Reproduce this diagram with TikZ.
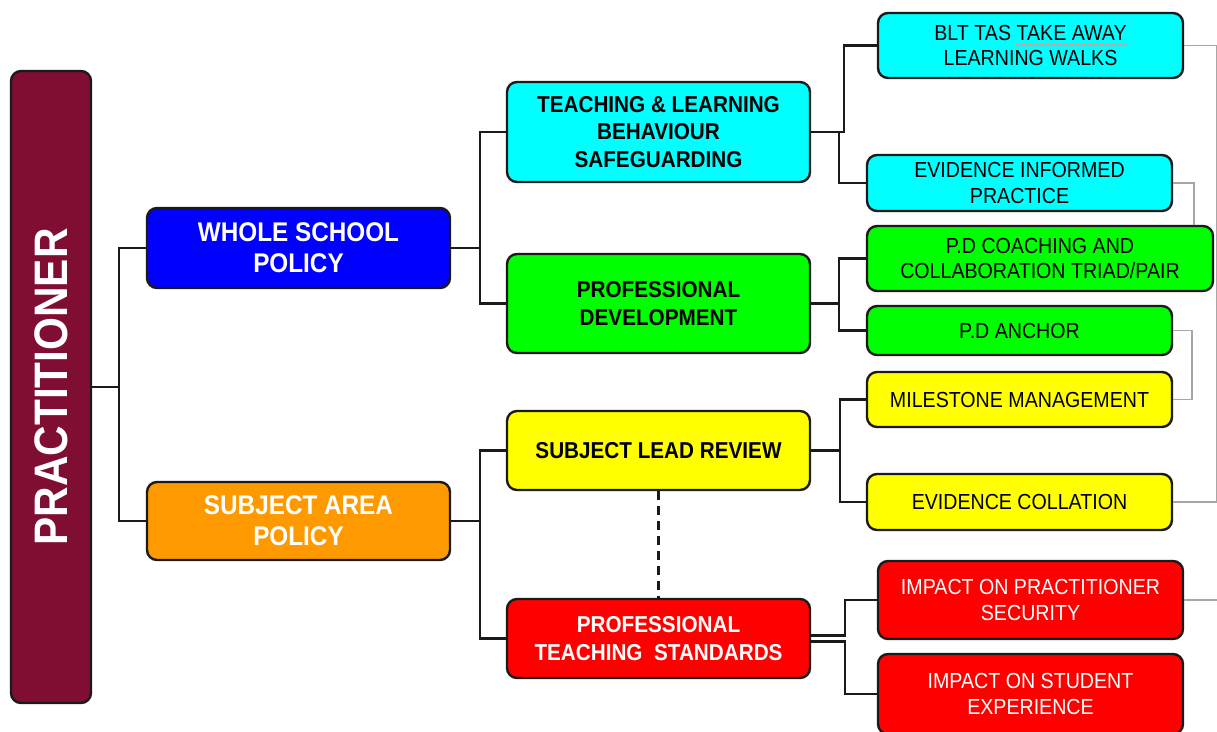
\documentclass[tikz,border=0pt]{standalone}
\usepackage{fontspec}
\setmainfont{Liberation Sans}[FakeStretch=0.9]
\usetikzlibrary{decorations.pathmorphing}
\definecolor{maroon}{HTML}{7F0E32}
\definecolor{cblue}{HTML}{0000FF}
\definecolor{corange}{HTML}{FF9900}
\definecolor{ccyan}{HTML}{00FFFF}
\definecolor{cgreen}{HTML}{00FF00}
\definecolor{cyellow}{HTML}{FFFF00}
\definecolor{cred}{HTML}{FF0000}
\definecolor{linkgray}{HTML}{A6A6A6}
\definecolor{ink}{HTML}{1A1A1A}
\tikzset{
  box/.style={draw=ink, line width=2.4pt, rounded corners=10pt, align=center, inner sep=0pt},
  topbox/.style={box, text=white, font=\bfseries\fontsize{27}{31}\selectfont, minimum width=303pt},
  midbox/.style={box, font=\bfseries\fontsize{23}{27.5}\selectfont, minimum width=303pt},
  leafbox/.style={box, font=\fontsize{21.8}{25.5}\selectfont, minimum width=305pt},
  conn/.style={draw=ink, line width=2.2pt},
  soft/.style={draw=linkgray, line width=1.6pt},
  link/.style={draw=ink, line width=2.6pt, dash pattern=on 9pt off 6pt}
}
\begin{document}
\begin{tikzpicture}[x=1pt, y=-1pt]
\useasboundingbox (0,0) rectangle (1217,731);

% root
\node[box, fill=maroon, minimum width=80pt, minimum height=632pt] (root) at (51,387) {};
\node[rotate=90, text=white, font=\bfseries\fontsize{47}{47}\selectfont] (roottext) at (root.center) {PRACTITIONER};

% policies
\node[topbox, fill=cblue, minimum height=80pt] (whole) at (298.5,248) {WHOLE SCHOOL\\POLICY};
\node[topbox, fill=corange, minimum height=78pt] (area) at (298.5,521) {SUBJECT AREA\\POLICY};

% second level
\node[midbox, fill=ccyan, minimum height=100pt] (tl) at (658.5,132) {TEACHING \& LEARNING\\BEHAVIOUR\\SAFEGUARDING};
\node[midbox, fill=cgreen, minimum height=99pt] (pd) at (658.5,303.5) {PROFESSIONAL\\DEVELOPMENT};
\node[midbox, fill=cyellow, minimum height=79pt] (slr) at (658.5,450.5) {SUBJECT LEAD REVIEW};
\node[midbox, fill=cred, text=white, minimum height=79pt] (pts) at (658.5,638.5) {PROFESSIONAL\\TEACHING\ \ STANDARDS};

% third level
\node[leafbox, fill=ccyan, minimum height=65pt] (blt) at (1030.5,45.5) {BLT TAS TAKE AWAY\\LEARNING WALKS};
\node[leafbox, fill=ccyan, minimum height=56pt] (eip) at (1019.5,183) {EVIDENCE INFORMED\\PRACTICE};
\node[leafbox, fill=cgreen, minimum width=346pt, minimum height=65pt] (pdc) at (1040,258.5) {P.D COACHING AND\\COLLABORATION TRIAD/PAIR};
\node[leafbox, fill=cgreen, minimum height=49pt] (pda) at (1019.5,330.5) {P.D ANCHOR};
\node[leafbox, fill=cyellow, minimum height=55pt] (mm) at (1019.5,399.5) {MILESTONE MANAGEMENT};
\node[leafbox, fill=cyellow, minimum height=56pt] (ec) at (1019.5,502) {EVIDENCE COLLATION};
\node[leafbox, fill=cred, text=white, minimum height=78pt] (ips) at (1030.5,600) {IMPACT ON PRACTITIONER\\SECURITY};
\node[leafbox, fill=cred, text=white, minimum height=80pt] (ise) at (1030.5,694) {IMPACT ON STUDENT\\EXPERIENCE};

% spell-check squiggle under TAKE AWAY
\draw[draw=red!45, line width=0.8pt, decorate, decoration={snake, amplitude=0.9pt, segment length=3pt}] (1015,45) -- (1127,45);

% tree connectors
\draw[conn] (root.east) -- ++(27,0) |- (whole.west);
\draw[conn] (root.east) -- ++(27,0) |- (area.west);
\draw[conn] (whole.east) -- ++(29,0) |- (tl.west);
\draw[conn] (whole.east) -- ++(29,0) |- (pd.west);
\draw[conn] (area.east) -- ++(29,0) |- (slr.west);
\draw[conn] (area.east) -- ++(29,0) |- (pts.west);
\draw[conn] (tl.east) -- ++(33,0) |- (blt.west);
\draw[conn] (tl.east) -- ++(28,0) |- (eip.west);
\draw[conn] (pd.east) -- ++(28,0) |- (pdc.west);
\draw[conn] (pd.east) -- ++(28,0) |- (pda.west);
\draw[conn] (slr.east) -- ++(29,0) |- (mm.west);
\draw[conn] (slr.east) -- ++(29,0) |- (ec.west);
\draw[conn] ([yshift=3pt]pts.east) -- ++(34,0) |- (ips.west);
\draw[conn] ([yshift=-3pt]pts.east) -- ++(34,0) |- (ise.west);
\draw[link] (slr.south) -- (pts.north);

% light cross links on the right
\coordinate (edge) at (1217,600);
\draw[soft] (blt.east) -- ++(33,0) |- (ec.east);
\draw[soft] (eip.east) -| ([xshift=-20pt]pdc.north east);
\draw[soft] (pda.east) -- ++(19,0) |- (mm.east);
\draw[soft] (ips.east) -- (edge);
\end{tikzpicture}
\end{document}
